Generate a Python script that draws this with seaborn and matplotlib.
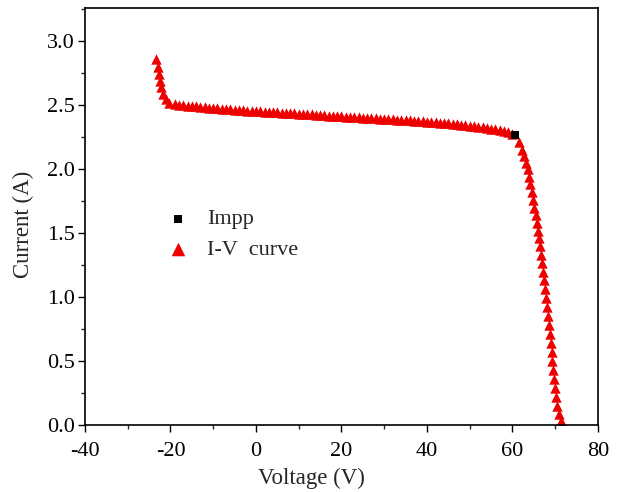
import matplotlib
matplotlib.use("Agg")
import matplotlib.pyplot as plt
import seaborn as sns
import pandas as pd
from matplotlib.ticker import MultipleLocator

# ---- data ----
left_v = [-23.3, -23.0, -22.7, -22.4, -22.1, -21.7, -21.1, -20.3]
left_i = [2.86, 2.80, 2.74, 2.69, 2.64, 2.59, 2.55, 2.52]

flat_v = [-19, -18, -17, -16, -15, -14, -13, -12, -11, -10, -9, -8, -7, -6, -5, -4, -3, -2, -1, 0,
          1, 2, 3, 4, 5, 6, 7, 8, 9, 10, 11, 12, 13, 14, 15, 16, 17, 18, 19, 20,
          21, 22, 23, 24, 25, 26, 27, 28, 29, 30, 31, 32, 33, 34, 35, 36, 37, 38, 39, 40,
          41, 42, 43, 44, 45, 46, 47, 48, 49, 50, 51, 52, 53, 54, 55, 56, 57, 58, 59, 60]
flat_i = [2.505, 2.502, 2.499, 2.496, 2.493, 2.490, 2.487, 2.484, 2.481, 2.478,
          2.475, 2.472, 2.469, 2.466, 2.463, 2.461, 2.459, 2.457, 2.455, 2.453,
          2.451, 2.449, 2.447, 2.445, 2.443, 2.441, 2.439, 2.437, 2.435, 2.433,
          2.431, 2.429, 2.427, 2.425, 2.423, 2.421, 2.419, 2.417, 2.415, 2.413,
          2.411, 2.409, 2.407, 2.405, 2.403, 2.401, 2.399, 2.397, 2.395, 2.393,
          2.391, 2.389, 2.387, 2.385, 2.383, 2.381, 2.379, 2.376, 2.374, 2.372,
          2.369, 2.366, 2.363, 2.360, 2.357, 2.354, 2.351, 2.347, 2.344, 2.340,
          2.336, 2.332, 2.327, 2.322, 2.316, 2.310, 2.303, 2.295, 2.287, 2.278]

drop_v = [61.5, 62.2, 62.7, 63.2, 63.6, 63.9, 64.2, 64.5, 64.8, 65.1, 65.4, 65.7,
          66.0, 66.3, 66.5, 66.7, 66.9, 67.1, 67.3, 67.5, 67.75, 68.0, 68.3, 68.5,
          68.75, 68.95, 69.15, 69.35, 69.55, 69.75, 69.95, 70.2, 70.5, 70.9, 71.4, 71.7]
drop_i = [2.21, 2.15, 2.10, 2.05, 2.00, 1.94, 1.88, 1.82, 1.76, 1.70, 1.64, 1.58,
          1.52, 1.46, 1.40, 1.33, 1.27, 1.20, 1.13, 1.06, 0.99, 0.92, 0.85, 0.78,
          0.71, 0.64, 0.57, 0.50, 0.43, 0.36, 0.29, 0.22, 0.15, 0.09, 0.03, 0.00]

impp_v = [60.6]
impp_i = [2.265]

x_ticks = [-40, -20, 0, 20, 40, 60, 80]
y_ticks = [0.0, 0.5, 1.0, 1.5, 2.0, 2.5, 3.0]

curve = pd.DataFrame({"Voltage": left_v + flat_v + drop_v,
                      "Current": left_i + flat_i + drop_i})
mpp = pd.DataFrame({"Voltage": impp_v, "Current": impp_i})

sns.set_style("ticks")
plt.rcParams["font.family"] = ["Liberation Serif", "DejaVu Serif"]

fig = plt.figure(figsize=(6.2, 4.92), dpi=100)
ax = fig.add_axes([0.137, 0.136, 0.8275, 0.848])

sns.scatterplot(data=curve, x="Voltage", y="Current", marker="^", color="#ee0000",
                s=56, linewidth=0, ax=ax, label="I-V  curve", zorder=2)
sns.scatterplot(data=mpp, x="Voltage", y="Current", marker="s", color="black",
                s=34, linewidth=0, ax=ax, label="Impp", zorder=3)

ax.set_xlim(-40, 80)
ax.set_ylim(0, 3.26)
ax.set_xticks(x_ticks)
ax.set_yticks(y_ticks)
ax.set_xticklabels([str(t) for t in x_ticks])
ax.set_yticklabels([f"{t:.1f}" for t in y_ticks])
ax.xaxis.set_minor_locator(MultipleLocator(10))
ax.yaxis.set_minor_locator(MultipleLocator(0.25))
ax.tick_params(axis="both", which="major", direction="out", length=5, width=1,
               labelsize=16, colors="black", top=False, right=False)
ax.tick_params(axis="both", which="minor", direction="out", length=3, width=1,
               top=False, right=False)
ax.tick_params(axis="x", which="major", pad=7)
ax.tick_params(axis="y", which="major", pad=2.5)
for sp in ax.spines.values():
    sp.set_visible(True)
    sp.set_linewidth(1.2)
    sp.set_color("black")

ax.set_xlabel("Voltage (V)", fontsize=16.5)
ax.set_ylabel("Current (A)", fontsize=16.5)
ax.xaxis.set_label_coords(0.442, -0.103)
ax.yaxis.set_label_coords(-0.10, 0.48)

handles, labels = ax.get_legend_handles_labels()
order = [labels.index("Impp"), labels.index("I-V  curve")]
leg = ax.legend([handles[k] for k in order], [labels[k] for k in order],
                loc="upper left", bbox_to_anchor=(0.099, 0.566), frameon=False,
                fontsize=16, handletextpad=0.3, labelspacing=0.45)
leg.legend_handles[0].set_sizes([40])
leg.legend_handles[1].set_sizes([95])

fig.savefig("out.png", dpi=100)
